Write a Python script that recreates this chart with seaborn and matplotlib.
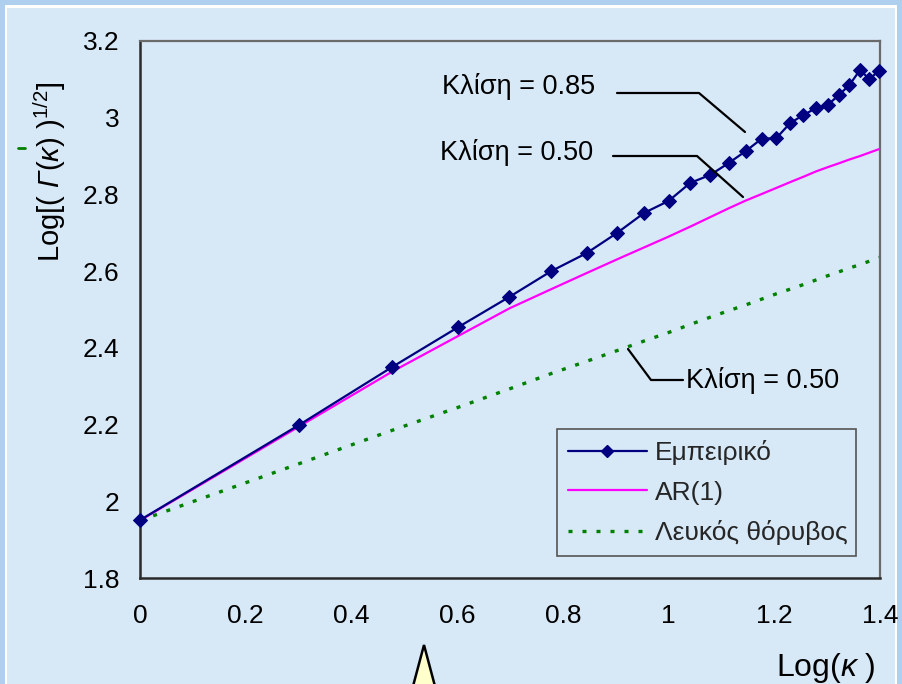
import matplotlib
matplotlib.use("Agg")
import matplotlib.pyplot as plt
import seaborn as sns
import pandas as pd
from matplotlib.patches import Rectangle, Polygon
from matplotlib.lines import Line2D

# ---- data ----
log_k = [0.000, 0.301, 0.477, 0.602, 0.699, 0.778, 0.845, 0.903, 0.954, 1.000,
         1.041, 1.079, 1.114, 1.146, 1.176, 1.204, 1.230, 1.255, 1.279, 1.301,
         1.322, 1.342, 1.362, 1.380, 1.398]
empirical = [1.951, 2.199, 2.350, 2.454, 2.533, 2.600, 2.647, 2.700, 2.752, 2.783,
             2.830, 2.851, 2.882, 2.913, 2.945, 2.947, 2.986, 3.007, 3.025, 3.033,
             3.059, 3.085, 3.124, 3.101, 3.122]
ar1 = [1.950, 2.195, 2.338, 2.431, 2.503, 2.553, 2.595, 2.631, 2.662, 2.690,
       2.716, 2.741, 2.764, 2.784, 2.801, 2.817, 2.832, 2.846, 2.860, 2.871,
       2.881, 2.891, 2.900, 2.909, 2.918]
white_noise = [1.950, 2.098, 2.185, 2.245, 2.293, 2.333, 2.365, 2.393, 2.418, 2.440,
               2.461, 2.480, 2.497, 2.512, 2.527, 2.541, 2.553, 2.565, 2.577, 2.588,
               2.598, 2.608, 2.617, 2.626, 2.636]
series_names = ["Εμπειρικό", "AR(1)", "Λευκός θόρυβος"]
x_ticks = [0, 0.2, 0.4, 0.6, 0.8, 1.0, 1.2, 1.4]
x_tick_labels = ["0", "0.2", "0.4", "0.6", "0.8", "1", "1.2", "1.4"]
y_ticks = [1.8, 2.0, 2.2, 2.4, 2.6, 2.8, 3.0, 3.2]
y_tick_labels = ["1.8", "2", "2.2", "2.4", "2.6", "2.8", "3", "3.2"]
slope_labels = ["Κλίση = 0.85", "Κλίση = 0.50", "Κλίση = 0.50"]

df = pd.DataFrame({"x": log_k, "emp": empirical, "ar": ar1, "wn": white_noise})

sns.set_theme(style="white")
plt.rcParams["font.family"] = ["Liberation Sans", "DejaVu Sans"]
plt.rcParams["mathtext.fontset"] = "custom"
plt.rcParams["mathtext.rm"] = "Liberation Sans"
plt.rcParams["mathtext.it"] = "Liberation Sans:italic"
plt.rcParams["mathtext.sf"] = "Liberation Sans:italic"

W, H = 902, 684
BG = "#D7E8F6"
OUTER = "#AECFED"
fig = plt.figure(figsize=(W / 100, H / 100), dpi=100)
fig.patch.set_facecolor(OUTER)
fig.patches.append(Rectangle((5 / W, 0), 892 / W, 1 - 5 / H, transform=fig.transFigure,
                             facecolor="white", edgecolor="none", zorder=-2))
fig.patches.append(Rectangle((7 / W, 0), 888 / W, 1 - 8 / H, transform=fig.transFigure,
                             facecolor=BG, edgecolor="none", zorder=-1))

ax = fig.add_axes([140 / W, 1 - 578 / H, 740 / W, 537 / H])
ax.set_facecolor(BG)

sns.lineplot(data=df, x="x", y="emp", ax=ax, color="#000080", lw=1.6, marker="D",
             markersize=7.5, markeredgecolor="#000080", sort=False, clip_on=False, zorder=4)
sns.lineplot(data=df, x="x", y="ar", ax=ax, color="#FF00FF", lw=1.6, sort=False, zorder=3)
sns.lineplot(data=df, x="x", y="wn", ax=ax, color="#008000", lw=2.4, sort=False, zorder=2,
             linestyle=(0, (1.2, 3.0)))

ax.set_xlim(0, 1.4)
ax.set_ylim(1.8, 3.2)
ax.set_xticks(x_ticks)
ax.set_xticklabels(x_tick_labels)
ax.set_yticks(y_ticks)
ax.set_yticklabels(y_tick_labels)
ax.tick_params(axis="both", labelsize=19, colors="black", direction="out", length=6, width=1.2)
ax.tick_params(axis="x", pad=13, colors="#222222", labelcolor="black")
ax.tick_params(axis="y", pad=9, colors="#222222", labelcolor="black")
ax.set_xlabel("")
ax.set_ylabel("")
for s in ["left", "bottom"]:
    ax.spines[s].set_color("#2A2A2A")
    ax.spines[s].set_linewidth(1.8)
for s in ["top", "right"]:
    ax.spines[s].set_color("#6B6B6B")
    ax.spines[s].set_linewidth(1.6)

# legend
handles = [Line2D([], [], color="#000080", lw=1.6, marker="D", markersize=6.5),
           Line2D([], [], color="#FF00FF", lw=1.6),
           Line2D([], [], color="#008000", lw=2.4, linestyle=(0, (1.2, 3.0)))]
leg = ax.legend(handles, series_names, loc="lower left",
                bbox_to_anchor=((557 - 140) / 740, (578 - 556) / 537, (856 - 557) / 740, (556 - 430) / 537),
                mode="expand", fontsize=19, frameon=True, fancybox=False, borderaxespad=0,
                handlelength=3.0, handletextpad=0.3, labelspacing=0.6, borderpad=0.4)
leg.get_frame().set_facecolor(BG)
leg.get_frame().set_edgecolor("#555555")
leg.get_frame().set_linewidth(1.2)
leg.get_frame().set_alpha(1)

# annotations (leader lines in figure pixel coords -> figure fraction)
def fx(px):
    return px / W

def fy(py):
    return 1 - py / H

leaders = [
    ([617, 699, 745], [93, 93, 132]),
    ([613, 697, 743], [156, 156, 197]),
    ([683, 651, 628], [380, 380, 349]),
]
for xs, ys in leaders:
    fig.lines.append(Line2D([fx(v) for v in xs], [fy(v) for v in ys], transform=fig.transFigure,
                            color="black", lw=1.6))

fig.text(fx(595), fy(87), slope_labels[0], ha="right", va="center", fontsize=19.5, color="black")
fig.text(fx(593), fy(152), slope_labels[1], ha="right", va="center", fontsize=19.5, color="black")
fig.text(fx(686), fy(381), slope_labels[2], ha="left", va="center", fontsize=19.5, color="black")

# axis titles
fig.text(fx(50), fy(172), r"Log[( $\mathsf{Γ}$($\mathit{κ}$) )$^{1/2}$]", rotation=90,
         ha="center", va="center", fontsize=21, color="black")
fig.text(fx(876), fy(668), r"Log($\mathit{κ}$ )", ha="right", va="center", fontsize=23, color="black")

# small green mark near y label
fig.lines.append(Line2D([fx(18), fx(25)], [fy(148), fy(148)], transform=fig.transFigure,
                        color="#008000", lw=2))

# callout triangle at bottom
fig.patches.append(Polygon([(fx(412), fy(690)), (fx(424), fy(645)), (fx(436), fy(690))],
                           closed=True, transform=fig.transFigure, facecolor="#FFFFCC",
                           edgecolor="black", lw=1.8))

fig.savefig("out.png", dpi=100, facecolor=fig.get_facecolor())
